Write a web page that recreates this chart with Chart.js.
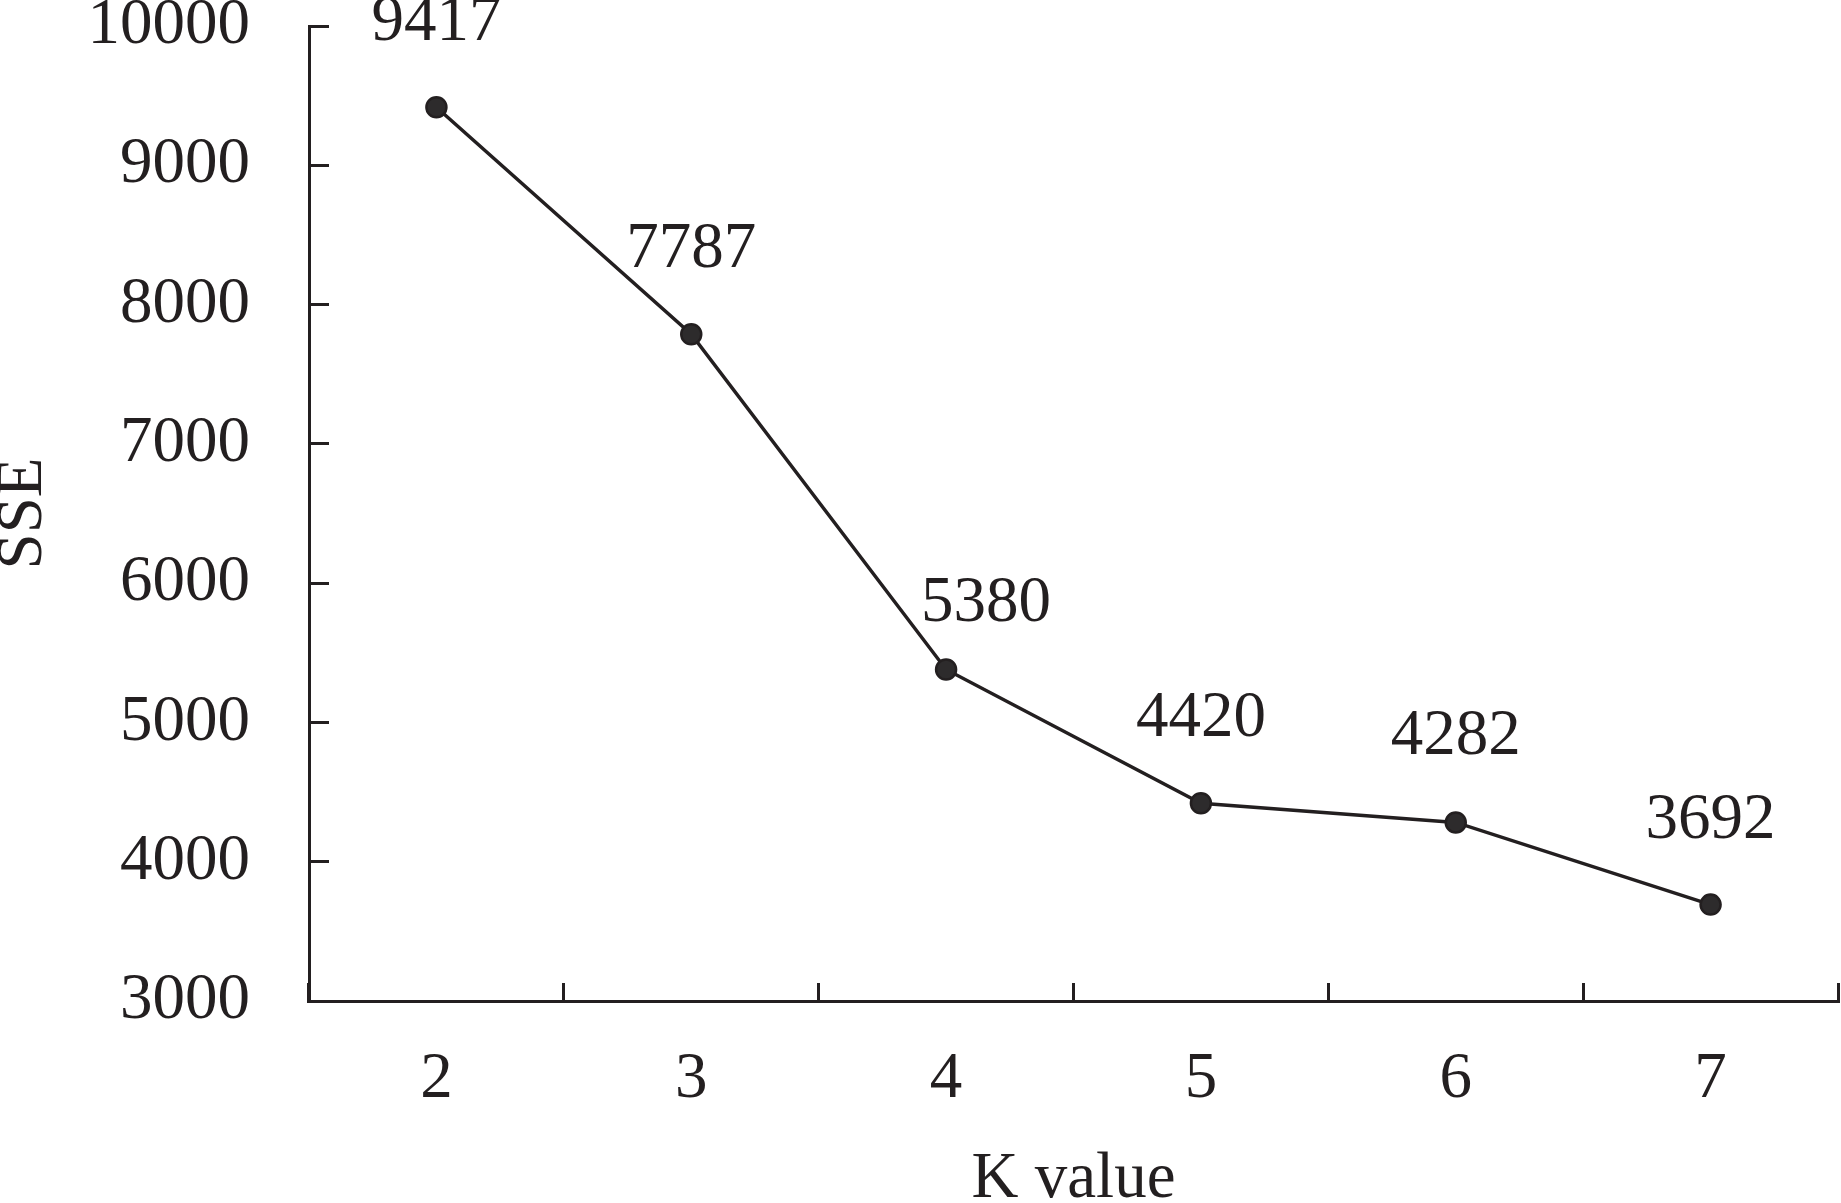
<!DOCTYPE html>
<html>
<head>
<meta charset="utf-8">
<script src="https://cdn.jsdelivr.net/npm/chart.js@4/dist/chart.umd.min.js"></script>
<style>
  html, body { margin: 0; padding: 0; background: #fff; overflow: hidden; }
  canvas { display: block; }
</style>
</head>
<body>
<canvas id="c" width="1841" height="1203" style="width:1841px;height:1203px"></canvas>
<script>
// ---- data ----
const categories = ['2', '3', '4', '5', '6', '7'];
const sseValues = [9417, 7787, 5380, 4420, 4282, 3692];
const yTickMin = 3000;
const yTickMax = 10000;
const yTickStep = 1000;
const xTitle = 'K value';
const yTitle = 'SSE';

// ---- styles ----
const INK = '#231f20';
const FONT = '"Liberation Serif", "Times New Roman", serif';
const FS = 65;
// label offsets (dx, dy) relative to each point
const labelOffsets = [[0, -84], [0, -84], [40, -66], [0, -84], [0, -86], [0, -84]];

const dataLabelPlugin = {
  id: 'dataLabels',
  afterDatasetsDraw(chart) {
    const ctx = chart.ctx;
    const meta = chart.getDatasetMeta(0);
    ctx.save();
    ctx.font = FS + 'px ' + FONT;
    ctx.fillStyle = INK;
    ctx.textAlign = 'center';
    ctx.textBaseline = 'middle';
    meta.data.forEach((pt, i) => {
      const off = labelOffsets[i] || [0, -84];
      ctx.fillText(String(sseValues[i]), pt.x + off[0], pt.y + off[1]);
    });
    ctx.restore();
  }
};

new Chart(document.getElementById('c'), {
  type: 'line',
  data: {
    labels: categories,
    datasets: [{
      data: sseValues,
      borderColor: INK,
      borderWidth: 3.5,
      pointRadius: 10,
      pointBorderWidth: 2.5,
      pointBackgroundColor: '#2d2b2c',
      pointBorderColor: INK,
      tension: 0,
      fill: false,
      clip: false
    }]
  },
  options: {
    responsive: false,
    maintainAspectRatio: false,
    devicePixelRatio: 1,
    animation: false,
    layout: { autoPadding: false, padding: { top: 26, right: 3, bottom: 0, left: 0 } },
    plugins: { legend: { display: false }, tooltip: { enabled: false } },
    scales: {
      x: {
        type: 'category',
        offset: true,
        grid: {
          offset: true,
          drawOnChartArea: false,
          drawTicks: true,
          tickLength: -18,
          tickWidth: 3,
          tickColor: INK
        },
        border: { display: true, color: INK, width: 3 },
        ticks: {
          color: INK,
          font: { family: FONT, size: FS },
          padding: 58,
          maxRotation: 0
        },
        title: {
          display: true,
          text: xTitle,
          color: INK,
          font: { family: FONT, size: FS, lineHeight: 0.72 },
          padding: 0
        },
        afterFit(scale) {
          scale.height = 202;
          scale.paddingLeft = 0;
          scale.paddingRight = 0;
        }
      },
      y: {
        min: yTickMin,
        max: yTickMax,
        ticks: {
          stepSize: yTickStep,
          color: INK,
          font: { family: FONT, size: FS },
          padding: 79,
          callback: (v) => String(v)
        },
        grid: {
          drawOnChartArea: false,
          drawTicks: true,
          tickLength: -20,
          tickWidth: 3,
          tickColor: INK
        },
        border: { display: true, color: INK, width: 3 },
        title: {
          display: true,
          text: yTitle,
          color: INK,
          font: { family: FONT, size: FS, lineHeight: 0.74 },
          padding: 0
        },
        afterFit(scale) {
          scale.width = 309;
          scale.paddingTop = 0;
          scale.paddingBottom = 0;
        }
      }
    }
  },
  plugins: [dataLabelPlugin]
});
</script>
</body>
</html>
